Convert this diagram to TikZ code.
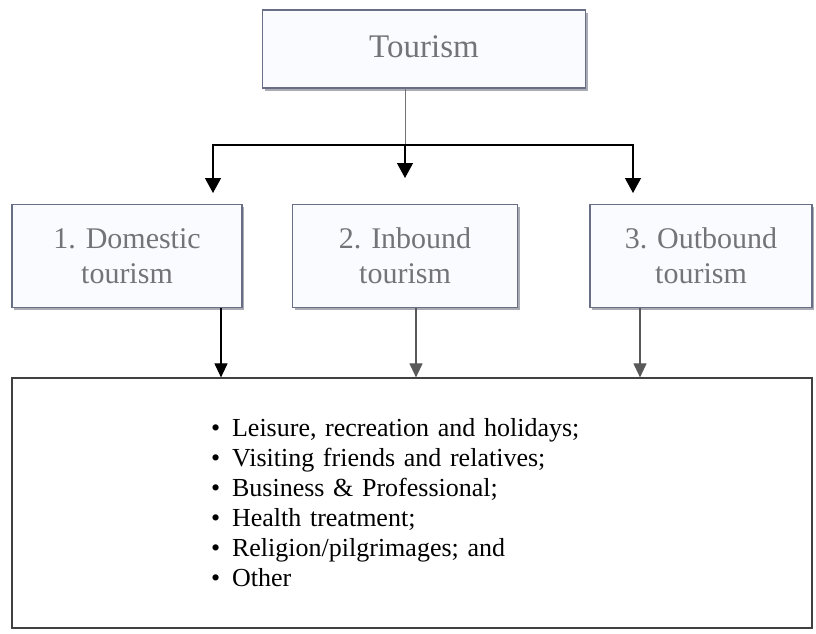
\documentclass[tikz,border=0pt]{standalone}
\usepackage{fontspec}
\setmainfont{Liberation Serif}
\usepackage{tikz}
\usetikzlibrary{arrows.meta,shadows}
\definecolor{boxedge}{RGB}{105,110,135}
\definecolor{boxfill}{RGB}{250,251,255}
\definecolor{boxtext}{RGB}{115,115,120}
\definecolor{shade}{RGB}{150,150,160}

\begin{document}
\begin{tikzpicture}[x=1pt, y=-1pt,
  box/.style={draw=boxedge, line width=1.3pt, fill=boxfill, align=center,
    text=boxtext, inner sep=0pt,
    drop shadow={shadow xshift=2pt, shadow yshift=-2.5pt, fill=shade, opacity=0.8}},
  head/.style={box, minimum width=323pt, minimum height=78pt,
    font=\fontsize{33}{36}\selectfont},
  kind/.style={box, minimum height=103pt,
    font=\fontsize{30}{35}\selectfont},
  list/.style={draw=black!75, line width=1.2pt, fill=white, align=left,
    minimum width=800pt, minimum height=250pt, text width=402pt,
    inner xsep=199pt, inner ysep=0pt, font=\fontsize{26}{30}\selectfont},
  flow/.style={-{Triangle[length=15pt,width=16pt]}, line width=1.3pt, draw=black},
  subflow/.style={-{Triangle[length=14pt,width=13pt]}, line width=1.1pt}
]
\useasboundingbox (0,0) rectangle (816,633);

% Top level and the three forms.
\node[head] (tourism) at (424,49) {\raisebox{5pt}{Tourism}};
\node[kind, minimum width=230pt] (domestic) at (127,256) {1. Domestic\\tourism};
\node[kind, minimum width=225pt] (inbound) at (405,256) {2. Inbound\\tourism};
\node[kind, minimum width=222pt] (outbound) at (701,256) {3. Outbound\\tourism};

% Purposes shared by all forms.
\node[list] (purposes) at (412,503) {%
  \raisebox{0pt}[0pt][0pt]{}\textbullet\hspace{12pt}Leisure, recreation and holidays;\\
  \textbullet\hspace{12pt}Visiting friends and relatives;\\
  \textbullet\hspace{12pt}Business \& Professional;\\
  \textbullet\hspace{12pt}Health treatment;\\
  \textbullet\hspace{12pt}Religion/pilgrimages; and\\
  \textbullet\hspace{12pt}Other\\[4pt]};

\coordinate (split) at (405,145);
\coordinate (lefttip) at (213,193);
\coordinate (righttip) at (633,193);

\draw[line width=1pt, draw=black!55] (tourism.south -| split) -- (split);
\draw[flow] (split) -- ++(0,33);
\draw[flow] (split) -| (lefttip);
\draw[flow] (split) -| (righttip);

\draw[subflow, draw=black] ([xshift=94pt]domestic.south)
  -- ([xshift=94pt]domestic.south |- purposes.north);
\draw[subflow, draw=black!65] ([xshift=11pt]inbound.south)
  -- ([xshift=11pt]inbound.south |- purposes.north);
\draw[subflow, draw=black!65] ([xshift=-61pt]outbound.south)
  -- ([xshift=-61pt]outbound.south |- purposes.north);

\end{tikzpicture}
\end{document}
